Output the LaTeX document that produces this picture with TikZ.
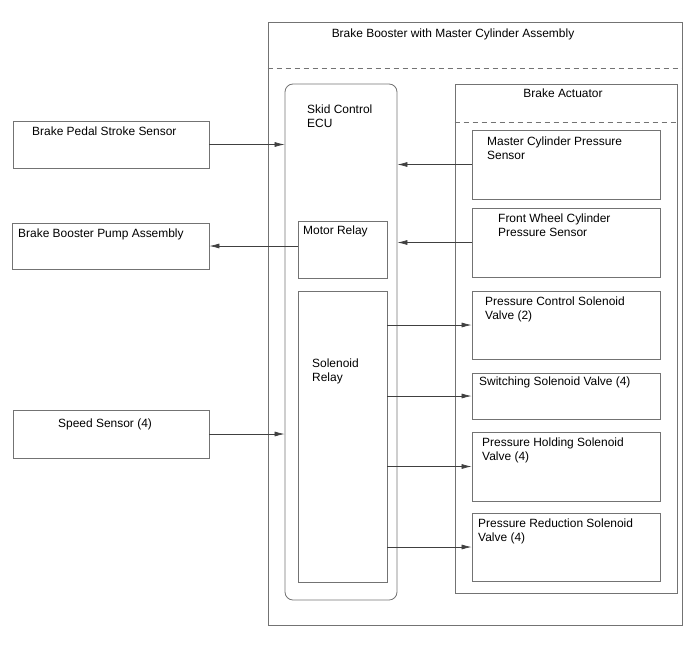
\documentclass[tikz,border=0pt]{standalone}
\usepackage{fontspec}
\setmainfont{Liberation Sans}
\usetikzlibrary{arrows.meta,calc}

\begin{document}
\begin{tikzpicture}[x=1bp, y=-1bp,
  box/.style={draw=black!55, line width=0.8bp, rectangle, inner sep=0pt},
  lbl/.style={font=\fontsize{12}{14}\selectfont, align=left, inner sep=0pt, anchor=north west},
  sep/.style={draw=black!55, line width=0.8bp, dash pattern=on 5bp off 4bp},
  arr/.style={draw=black!75, line width=0.7bp, -{Latex[length=10bp,width=5bp]}}]
\useasboundingbox (0,0) rectangle (688,658);

% assembly and its parts
\node[box, minimum width=414bp, minimum height=603bp] (assy) at (475,323.5) {};
\node[box, rounded corners=8bp, minimum width=112bp, minimum height=516bp] (ecu) at (341,342) {};
\node[box, minimum width=89bp, minimum height=57bp] (motor) at (342.5,249.5) {};
\node[box, minimum width=89bp, minimum height=291bp] (solenoid) at (342.5,436.5) {};
\node[box, minimum width=222bp, minimum height=509bp] (act) at (566,338.5) {};

\node[box, minimum width=188bp, minimum height=69bp] (mcps) at (566,164.5) {};
\node[box, minimum width=188bp, minimum height=69bp] (fwcps) at (566,242.5) {};
\node[box, minimum width=188bp, minimum height=68bp] (pcsv) at (566,325) {};
\node[box, minimum width=188bp, minimum height=46bp] (ssv) at (566,396) {};
\node[box, minimum width=188bp, minimum height=69bp] (phsv) at (566,466.5) {};
\node[box, minimum width=188bp, minimum height=68bp] (prsv) at (566,547) {};

% outside the assembly
\node[box, minimum width=196bp, minimum height=47bp] (pedal) at (111,144.5) {};
\node[box, minimum width=197bp, minimum height=46bp] (pump) at (110.5,246) {};
\node[box, minimum width=196bp, minimum height=48bp] (speed) at (111,434) {};

\draw[sep] (assy.west |- 0,68) coordinate (assyL) -- (assy.east |- 0,68) coordinate (assyR);
\draw[sep] (act.west |- 0,122) coordinate (actL) -- (act.east |- 0,122) coordinate (actR);

% texts
\node[lbl, anchor=north] (assyT) at (453,29) {Brake Booster with Master Cylinder Assembly};
\node[lbl, anchor=north] (actT) at (563,89) {Brake Actuator};
\node[lbl] (ecuT) at (307,105) {Skid Control\\ECU};
\node[lbl] (motorT) at (303,226) {Motor Relay};
\node[lbl] (solenoidT) at (312,359) {Solenoid\\Relay};
\node[lbl] (mcpsT) at (487,137) {Master Cylinder Pressure\\Sensor};
\node[lbl] (fwcpsT) at (498,214) {Front Wheel Cylinder\\Pressure Sensor};
\node[lbl] (pcsvT) at (485,297) {Pressure Control Solenoid\\Valve (2)};
\node[lbl] (ssvT) at (479,377) {Switching Solenoid Valve (4)};
\node[lbl] (phsvT) at (482,438) {Pressure Holding Solenoid\\Valve (4)};
\node[lbl] (prsvT) at (478,519) {Pressure Reduction Solenoid\\Valve (4)};
\node[lbl] (pedalT) at (32,127) {Brake Pedal Stroke Sensor};
\node[lbl] (pumpT) at (18,229) {Brake Booster Pump Assembly};
\node[lbl] (speedT) at (58,419) {Speed Sensor (4)};

% signals
\draw[arr] (pedal.east) -- (pedal.east -| ecu.west);
\draw[arr] (speed.east) -- (speed.east -| ecu.west);
\draw[arr] (pump.east -| motor.west) -- (pump.east);
\draw[arr] (mcps.west) -- (mcps.west -| ecu.east);
\draw[arr] (fwcps.west) -- (fwcps.west -| ecu.east);
\draw[arr] (pcsv.west -| solenoid.east) -- (pcsv.west);
\draw[arr] (ssv.west -| solenoid.east) -- (ssv.west);
\draw[arr] (phsv.west -| solenoid.east) -- (phsv.west);
\draw[arr] (prsv.west -| solenoid.east) -- (prsv.west);
\end{tikzpicture}
\end{document}
